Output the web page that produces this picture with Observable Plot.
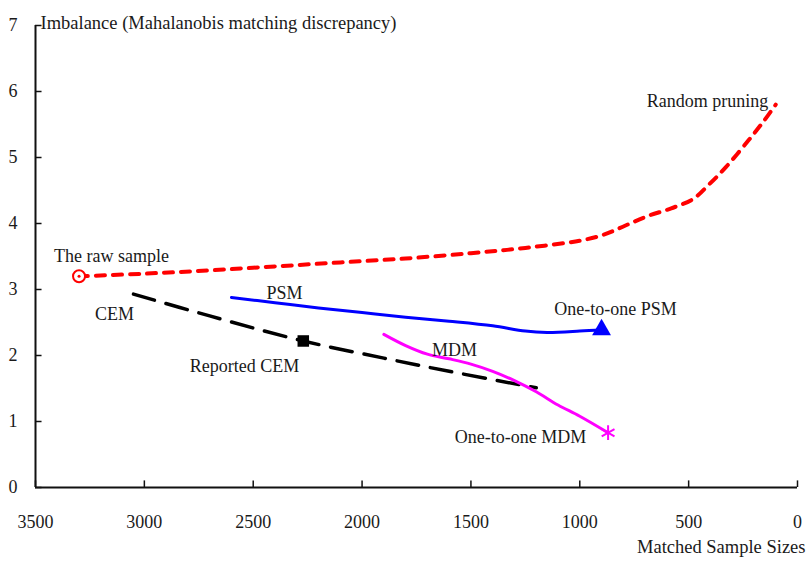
<!DOCTYPE html>
<html>
<head>
<meta charset="utf-8">
<script src="https://cdn.jsdelivr.net/npm/d3@7"></script>
<script src="https://cdn.jsdelivr.net/npm/@observablehq/plot@0.6"></script>
<style>
  html, body { margin: 0; padding: 0; background: #fff; }
  #chart svg { display: block; }
</style>
</head>
<body>
<div id="chart"></div>
<script>
// ---- data ----
const randomX = [3300, 3000, 2700, 2400, 2100, 1800, 1500, 1250, 1000, 890, 790, 690, 580, 480, 410, 330, 225, 160, 100];
const randomY = [3.2, 3.24, 3.29, 3.35, 3.41, 3.47, 3.55, 3.63, 3.74, 3.83, 3.97, 4.11, 4.23, 4.37, 4.58, 4.85, 5.26, 5.53, 5.8];

const psmX = [2600, 2400, 2200, 2000, 1800, 1600, 1400, 1250, 1150, 1000, 900];
const psmY = [2.88, 2.8, 2.72, 2.65, 2.58, 2.52, 2.45, 2.37, 2.35, 2.37, 2.39];

const mdmX = [1900, 1800, 1700, 1600, 1500, 1400, 1300, 1200, 1100, 1000, 870];
const mdmY = [2.32, 2.15, 2.02, 1.95, 1.87, 1.76, 1.62, 1.45, 1.25, 1.08, 0.83];

const cemX = [3050, 2700, 2270, 1900, 1600, 1200];
const cemY = [2.93, 2.6, 2.22, 1.96, 1.76, 1.51];

const rawSample = {x: 3300, y: 3.2};
const onePSM = {x: 900, y: 2.39};
const oneMDM = {x: 870, y: 0.83};
const reportedCEM = {x: 2270, y: 2.22};

const xTicks = [3500, 3000, 2500, 2000, 1500, 1000, 500, 0];
const yTicks = [0, 1, 2, 3, 4, 5, 6, 7];

const labelText = ["The raw sample", "CEM", "PSM", "Reported CEM", "MDM", "One-to-one PSM", "One-to-one MDM", "Random pruning"];
const labelX = [3151, 3137, 2356, 2540, 1576, 836, 1272, 413];
const labelY = [3.5, 2.62, 2.95, 1.83, 2.08, 2.70, 0.76, 5.85];

const yTitle = "Imbalance (Mahalanobis matching discrepancy)";
const xTitle = "Matched Sample Sizes";

// ---- build tables ----
const zip = (xs, ys) => xs.map((x, i) => ({x, y: ys[i]}));
const randomData = zip(randomX, randomY);
const psmData = zip(psmX, psmY);
const mdmData = zip(mdmX, mdmY);
const cemData = zip(cemX, cemY);
const labels = labelText.map((t, i) => ({t, x: labelX[i], y: labelY[i]}));

const font = "'Liberation Serif', 'Times New Roman', serif";
const textColor = "#1a1a1a";

const chart = Plot.plot({
  width: 807,
  height: 561,
  marginLeft: 35,
  marginRight: 10,
  marginTop: 25,
  marginBottom: 74,
  style: {fontFamily: font, fontSize: "18px", color: textColor, background: "#fff"},
  x: {domain: [3500, 0], label: null},
  y: {domain: [0, 7], label: null},
  marks: [
    // axes
    Plot.axisX({ticks: xTicks, tickSize: 0, tickPadding: 28, tickFormat: d => String(d), fontSize: 18, fill: textColor, label: null}),
    Plot.axisY({ticks: yTicks, tickSize: 0, tickPadding: 18, tickFormat: d => String(d), fontSize: 18, fill: textColor, label: null}),
    Plot.ruleY([0], {stroke: "#111", strokeWidth: 2}),
    Plot.ruleX([3500], {stroke: "#111", strokeWidth: 2}),
    Plot.ruleX(xTicks, {y1: 0, y2: 0.1, stroke: "#111", strokeWidth: 1.5}),
    Plot.ruleY(yTicks, {x1: 3500, x2: 3470, stroke: "#111", strokeWidth: 1.5}),
    // titles
    Plot.text([yTitle], {frameAnchor: "top-left", textAnchor: "start", dx: 5, dy: -10, fontSize: 18.5, fill: textColor}),
    Plot.text([xTitle], {frameAnchor: "bottom-right", textAnchor: "end", dx: 8, dy: 65, fontSize: 18.5, fill: textColor}),
    // series
    Plot.line(randomData, {x: "x", y: "y", stroke: "#ff0000", strokeWidth: 4, strokeDasharray: "9,8", curve: "catmull-rom"}),
    Plot.line(cemData, {x: "x", y: "y", stroke: "#000", strokeWidth: 3.5, strokeDasharray: "22,12", curve: "catmull-rom"}),
    Plot.line(psmData, {x: "x", y: "y", stroke: "#0000ff", strokeWidth: 3, curve: "catmull-rom"}),
    Plot.line(mdmData, {x: "x", y: "y", stroke: "#ff00ff", strokeWidth: 3, curve: "catmull-rom"}),
    // markers
    Plot.dot([rawSample], {x: "x", y: "y", r: 6, stroke: "#ff0000", strokeWidth: 2, fill: "#fff"}),
    Plot.dot([rawSample], {x: "x", y: "y", r: 1.5, fill: "#ff0000"}),
    Plot.dot([onePSM], {x: "x", y: "y", symbol: "triangle", r: 7, fill: "#0000ff"}),
    Plot.dot([oneMDM], {x: "x", y: "y", symbol: "asterisk", r: 7, stroke: "#ff00ff", strokeWidth: 2}),
    Plot.dot([reportedCEM], {x: "x", y: "y", symbol: "square", r: 6.5, fill: "#000"}),
    // labels
    Plot.text(labels, {x: "x", y: "y", text: "t", fontSize: 18, fill: textColor})
  ]
});
document.getElementById("chart").appendChild(chart);
</script>
</body>
</html>
